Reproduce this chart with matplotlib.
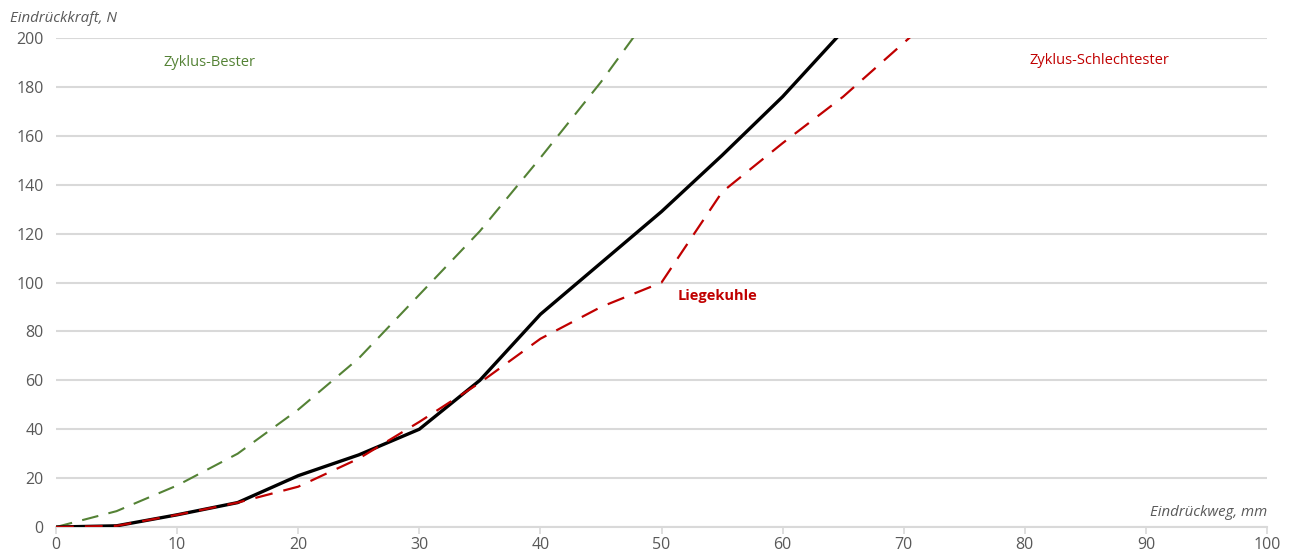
import matplotlib.pyplot as plt
import numpy as np

plt.rcParams['font.family'] = ['Open Sans', 'DejaVu Sans']

# Eindrückweg, mm
weg = [0, 5, 10, 15, 20, 25, 30, 35, 40, 45, 50, 55, 60, 65, 70, 75]

# Eindrückkraft, N
kraft_mess = [0, 0.5, 5, 10, 21, 29.5, 40, 60, 87, 108, 129, 152, 176, 203]
kraft_bester = [0, 6.5, 17, 30, 48, 69, 95, 121, 151, 182, 216]
kraft_schlecht = [0, 0.5, 5, 10, 16.5, 28, 43, 59, 77, 90, 100, 137, 157, 176, 198, 220]

x_ticks = list(range(0, 101, 10))
y_ticks = list(range(0, 201, 20))

grey = '#595959'
grid = '#d9d9d9'
green = '#548235'
red = '#c00000'

fig = plt.figure(figsize=(12.9, 5.49), dpi=100)
ax = fig.add_axes([0.0434, 0.040, 0.9388, 0.8908])

ax.plot(weg[:len(kraft_bester)], kraft_bester, color=green, lw=1.5,
        dashes=(8, 5))
ax.plot(weg[:len(kraft_mess)], kraft_mess, color='black', lw=2.4, zorder=3)
ax.plot(weg[:len(kraft_schlecht)], kraft_schlecht, color=red, lw=1.6,
        dashes=(8, 5), zorder=4)

ax.set_xlim(0, 100)
ax.set_ylim(0, 200)
ax.set_xticks(x_ticks)
ax.set_yticks(y_ticks)
ax.tick_params(axis='x', colors=grid, length=5, width=1.2, labelcolor=grey,
               labelsize=11.5, pad=2)
ax.tick_params(axis='y', length=0, labelcolor=grey, labelsize=11.5, pad=9)
ax.grid(axis='y', color=grid, lw=1.5)
ax.set_axisbelow(True)
for s in ['top', 'right', 'left']:
    ax.spines[s].set_visible(False)
ax.spines['bottom'].set_color(grid)
ax.spines['bottom'].set_linewidth(1.5)

ax.text(12.7, 189.8, 'Zyklus-Bester', color=green, fontsize=10.5,
        ha='center', va='center')
ax.text(86.2, 190.6, 'Zyklus-Schlechtester', color=red, fontsize=10.5,
        ha='center', va='center')
ax.text(51.3, 94.5, 'Liegekuhle', color=red, fontsize=10.5,
        fontweight='bold', ha='left', va='center')

fig.text(0.008, 0.967, 'Eindrückkraft, N', color=grey, fontsize=10.8,
         style='italic', ha='left', va='center')
ax.text(100, 5.8, 'Eindrückweg, mm', color=grey, fontsize=10.8,
        style='italic', ha='right', va='center')

fig.savefig('out.png', dpi=100)
